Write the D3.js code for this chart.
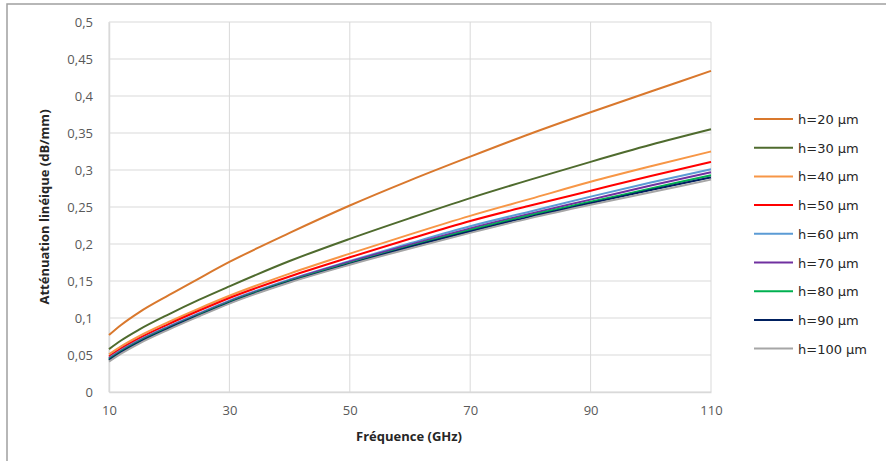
<!DOCTYPE html>
<html><head><meta charset="utf-8">
<script src="https://cdn.jsdelivr.net/npm/d3@7"></script>
<style>body{margin:0;background:#fff}svg{display:block}</style>
</head><body>
<script>
const freqs = [10,12,15,20,25,30,40,50,60,70,80,90,100,110];
const seriesNames = ["h=20 µm","h=30 µm","h=40 µm","h=50 µm","h=60 µm","h=70 µm","h=80 µm","h=90 µm","h=100 µm"];
const seriesColors = ["#D9782D","#4F6B2E","#F79646","#FF0000","#5B9BD5","#7030A0","#00B050","#002060","#A6A6A6"];
const h20  = [0.077,0.0906,0.1077,0.1312,0.1537,0.1757,0.215,0.252,0.286,0.318,0.349,0.378,0.406,0.434];
const h30  = [0.058,0.0696,0.0843,0.1053,0.1248,0.1428,0.177,0.207,0.235,0.262,0.287,0.311,0.334,0.355];
const h40  = [0.051,0.0618,0.0756,0.0951,0.1131,0.1301,0.160,0.187,0.213,0.238,0.261,0.284,0.305,0.325];
const h50  = [0.048,0.0588,0.0726,0.0921,0.1101,0.1271,0.156,0.182,0.207,0.231,0.252,0.272,0.292,0.311];
const h60  = [0.046,0.0566,0.0701,0.0891,0.1066,0.1235,0.152,0.177,0.201,0.224,0.244,0.264,0.283,0.301];
const h70  = [0.045,0.0556,0.0691,0.0881,0.1056,0.1225,0.151,0.176,0.199,0.221,0.241,0.260,0.279,0.297];
const h80  = [0.044,0.0546,0.0681,0.0871,0.1046,0.1215,0.150,0.174,0.197,0.219,0.239,0.257,0.275,0.293];
const h90  = [0.043,0.0536,0.0671,0.0861,0.1036,0.1205,0.149,0.173,0.196,0.217,0.237,0.255,0.273,0.290];
const h100 = [0.041,0.0518,0.0655,0.0847,0.1024,0.1195,0.148,0.172,0.194,0.215,0.235,0.253,0.270,0.287];
const seriesValues = [h20,h30,h40,h50,h60,h70,h80,h90,h100];
const xTicks = [10,30,50,70,90,110];
const yTicks = [0,0.05,0.1,0.15,0.2,0.25,0.3,0.35,0.4,0.45,0.5];
const xTitle = "Fréquence (GHz)";
const yTitle = "Atténuation linéique (dB/mm)";

const W = 886, H = 461;
const svg = d3.select("body").append("svg").attr("width", W).attr("height", H);
// outer frame
svg.append("rect").attr("x",7).attr("y",4).attr("width",W+20).attr("height",H+20)
  .attr("fill","#fff").attr("stroke","#A0A0A0").attr("stroke-width",1.5);

const x = d3.scaleLinear().domain([10,110]).range([109,711]);
const y = d3.scaleLinear().domain([0,0.5]).range([392,22]);
const fmt = d => d3.format(".2~f")(d).replace(".", ",");

// grid
const g = svg.append("g");
g.selectAll("line.h").data(yTicks).join("line")
  .attr("x1",x(10)).attr("x2",x(110)).attr("y1",d=>y(d)).attr("y2",d=>y(d))
  .attr("stroke","#D9D9D9").attr("stroke-width",1);
g.selectAll("line.v").data(xTicks).join("line")
  .attr("y1",y(0)).attr("y2",y(0.5)).attr("x1",d=>x(d)).attr("x2",d=>x(d))
  .attr("stroke","#D9D9D9").attr("stroke-width",1);

// axes
const yAxis = svg.append("g").attr("transform",`translate(${x(10)},0)`)
  .call(d3.axisLeft(y).tickValues(yTicks).tickFormat(fmt).tickSize(0).tickPadding(16));
const xAxis = svg.append("g").attr("transform",`translate(0,${y(0)})`)
  .call(d3.axisBottom(x).tickValues(xTicks).tickSize(0).tickPadding(14));
[yAxis,xAxis].forEach(a=>{
  a.select(".domain").attr("stroke","#D9D9D9").attr("stroke-width",1.5);
  a.selectAll("text").attr("fill","#595959").style("font-family","'Open Sans', sans-serif").style("font-size","13px");
});

// lines
const line = d3.line().x(d=>x(d[0])).y(d=>y(d[1])).curve(d3.curveMonotoneX);
seriesValues.forEach((vals,i)=>{
  svg.append("path").datum(freqs.map((f,j)=>[f,vals[j]]))
    .attr("fill","none").attr("stroke",seriesColors[i]).attr("stroke-width",2)
    .attr("d",line);
});

// titles
svg.append("text").attr("x",409).attr("y",441).attr("text-anchor","middle")
  .style("font-family","'Open Sans', sans-serif").style("font-size","13px").style("font-weight","bold")
  .attr("fill","#262626").text(xTitle);
svg.append("text").attr("transform","translate(49,207) rotate(-90)").attr("text-anchor","middle")
  .style("font-family","'Open Sans', sans-serif").style("font-size","13px").style("font-weight","bold")
  .attr("fill","#262626").text(yTitle);

// legend
const leg = svg.append("g");
seriesNames.forEach((n,i)=>{
  const yy = 119 + i*28.7;
  leg.append("line").attr("x1",754).attr("x2",793).attr("y1",yy).attr("y2",yy)
    .attr("stroke",seriesColors[i]).attr("stroke-width",2);
  leg.append("text").attr("x",798).attr("y",yy+5)
    .style("font-family","'DejaVu Sans', sans-serif").style("font-size","13px")
    .attr("fill","#262626").text(n);
});
</script>
</body></html>
